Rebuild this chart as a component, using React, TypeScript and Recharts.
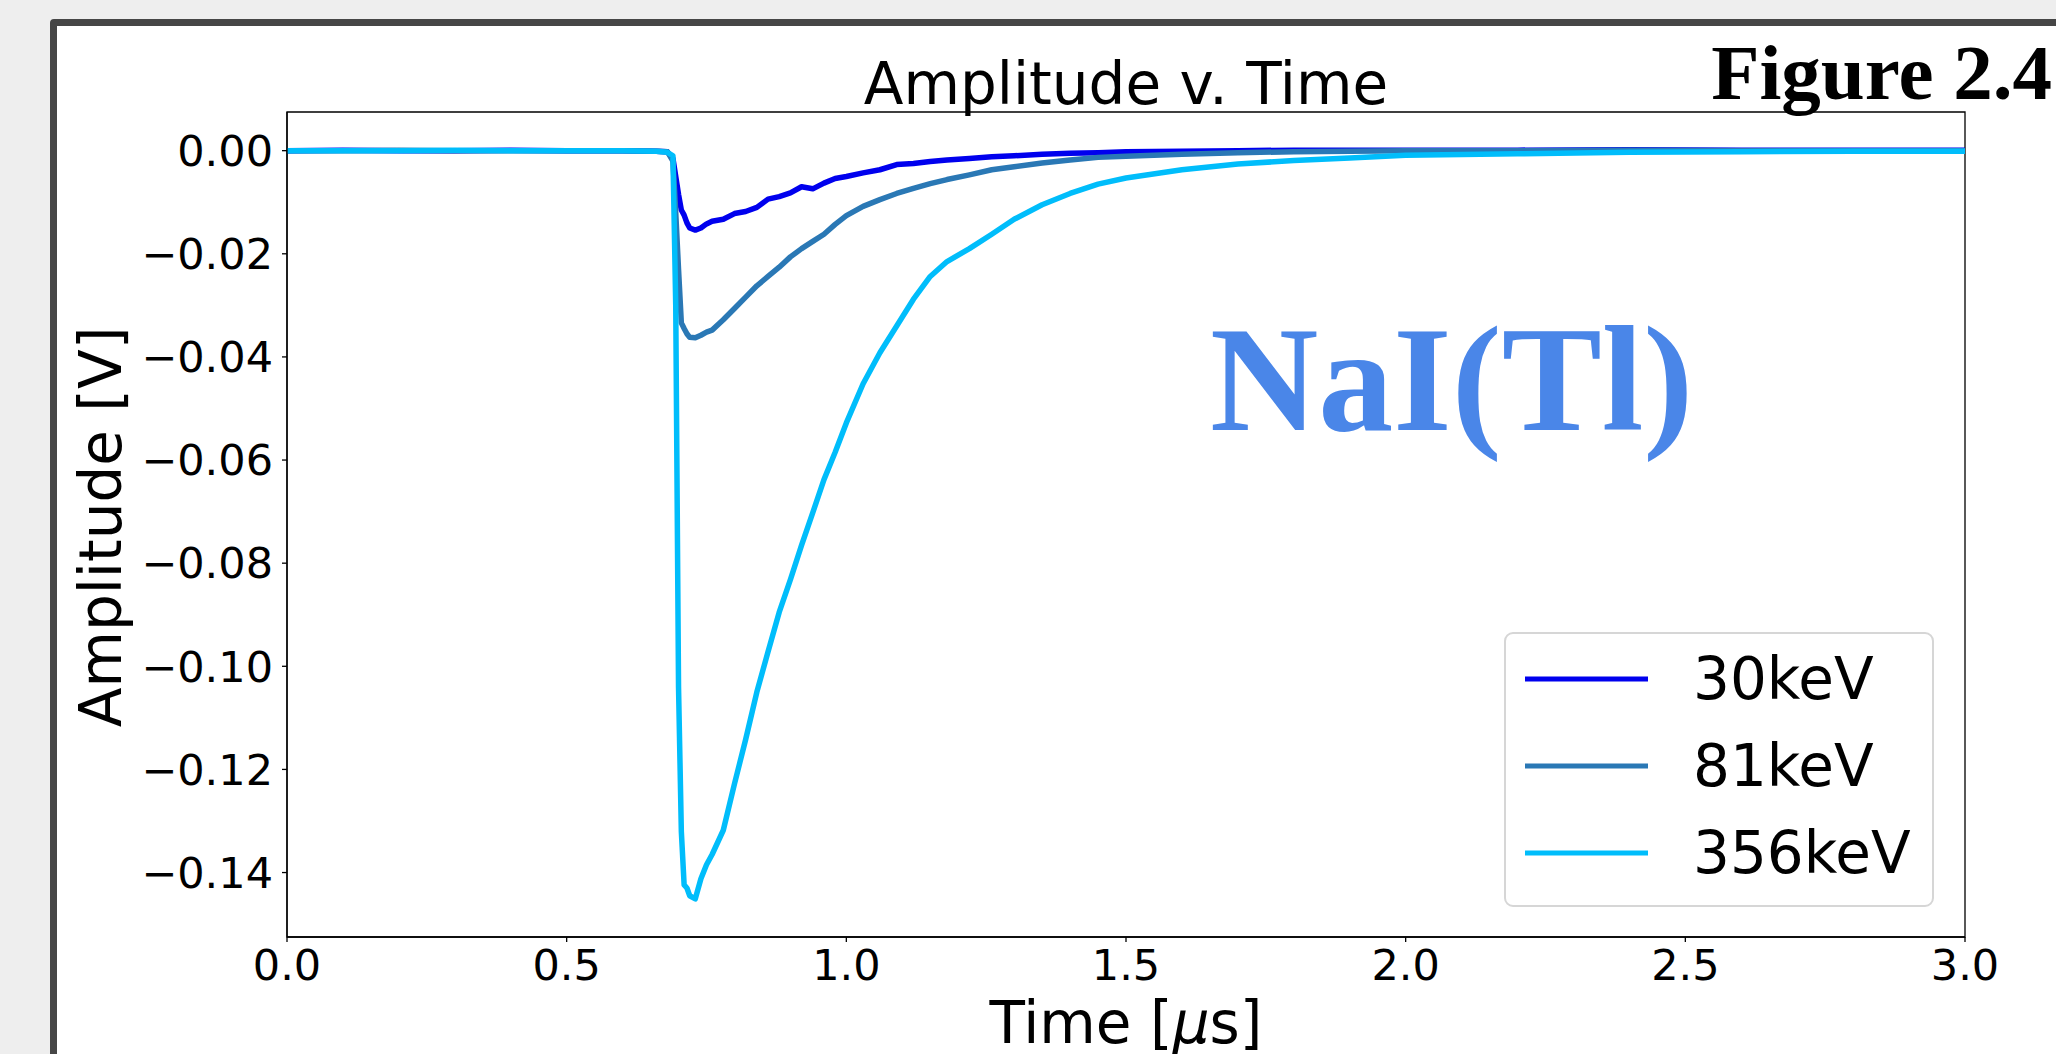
import React from 'react';
import {
  LineChart,
  Line,
  XAxis,
  YAxis,
  Legend,
  ReferenceArea,
} from 'recharts';

// time in microseconds
const times = [
  0, 0.1, 0.2, 0.3, 0.4, 0.5, 0.6, 0.66, 0.68, 0.69, 0.695, 0.7, 0.705, 0.71, 0.715,
  0.72, 0.73, 0.74, 0.75, 0.76, 0.78, 0.8, 0.82, 0.84, 0.86, 0.88, 0.9, 0.92, 0.94,
  0.96, 0.98, 1.0, 1.03, 1.06, 1.09, 1.12, 1.15, 1.18, 1.22, 1.26, 1.3, 1.35, 1.4,
  1.45, 1.5, 1.6, 1.7, 1.8, 1.9, 2.0, 2.2, 2.4, 2.6, 2.8, 3.0,
];

const amp30 = [
  0, 0.0001, 0, 0, 0.0001, 0, 0, -0.0001, -0.0002, -0.0015, -0.005, -0.0085, -0.0115,
  -0.0125, -0.014, -0.015, -0.0154, -0.015, -0.0142, -0.0137, -0.0133, -0.0122, -0.0118,
  -0.011, -0.0094, -0.0089, -0.0082, -0.007, -0.0074, -0.0063, -0.0054, -0.005, -0.0043,
  -0.0037, -0.0027, -0.0025, -0.0021, -0.0018, -0.0015, -0.0012, -0.001, -0.0007,
  -0.0005, -0.0004, -0.0002, -0.0001, 0, 0.0001, 0.0001, 0.0001, 0.0001, 0.0002, 0.0001,
  0.0001, 0.0001,
];

const amp81 = [
  0, 0, 0.0001, 0, 0, 0, 0, -0.0001, -0.0002, -0.002, -0.012, -0.023, -0.0334, -0.0345,
  -0.0355, -0.0362, -0.0363, -0.0358, -0.0352, -0.0348, -0.0328, -0.0306, -0.0284,
  -0.0262, -0.0244, -0.0226, -0.0206, -0.019, -0.0176, -0.0162, -0.0143, -0.0126,
  -0.0108, -0.0095, -0.0083, -0.0073, -0.0064, -0.0056, -0.0047, -0.0037, -0.0031,
  -0.0024, -0.0018, -0.0013, -0.0011, -0.0007, -0.0004, -0.0002, -0.0001, 0, 0, 0.0001,
  0, 0, 0,
];

const amp356 = [
  0, 0, 0, 0.0001, 0, 0, 0, -0.0001, -0.0003, -0.001, -0.03, -0.104, -0.132, -0.1424,
  -0.143, -0.1445, -0.1451, -0.1412, -0.1385, -0.1365, -0.1318, -0.1228, -0.1142, -0.105,
  -0.0972, -0.0895, -0.0832, -0.0765, -0.0702, -0.0638, -0.0585, -0.0528, -0.0452,
  -0.0392, -0.034, -0.0288, -0.0244, -0.0215, -0.019, -0.0162, -0.0133, -0.0105,
  -0.0083, -0.0065, -0.0053, -0.0037, -0.0026, -0.0019, -0.0014, -0.0009, -0.0006,
  -0.0003, -0.0002, -0.0001, -0.0001,
];

const seriesNames = ['30keV', '81keV', '356keV'];
const seriesColors = ['#0000ee', '#2a78b5', '#00bdfb'];

const xTicks = [0, 0.5, 1.0, 1.5, 2.0, 2.5, 3.0];
const yTicks = [0, -0.02, -0.04, -0.06, -0.08, -0.1, -0.12, -0.14];
const yDomain: [number, number] = [-0.1525, 0.0075];

const data = times.map((t, i) => ({
  t,
  a: amp30[i],
  b: amp81[i],
  c: amp356[i],
}));

const tickFont = { fontFamily: 'DejaVu Sans', fontSize: 43, fill: '#000' };

const fmtY = (v: number) => (v < 0 ? '\u2212' + Math.abs(v).toFixed(2) : v.toFixed(2));

// legend drawn in series order, like matplotlib does
const LegendBox = () => (
  <div
    style={{
      width: 430,
      height: 275,
      boxSizing: 'border-box',
      border: '2px solid #d6d6d6',
      borderRadius: 9,
      background: 'rgba(255,255,255,0.85)',
      position: 'relative',
    }}
  >
    {seriesNames.map((name, i) => (
      <div
        key={name}
        style={{ position: 'absolute', left: 0, top: 45 + i * 87 - 30, height: 60, width: 430 }}
      >
        <svg width={130} height={60} style={{ position: 'absolute', left: 17, top: 0 }}>
          <line x1={2} x2={125} y1={30} y2={30} stroke={seriesColors[i]} strokeWidth={5} />
        </svg>
        <span
          style={{
            position: 'absolute',
            left: 187,
            top: 0,
            lineHeight: '60px',
            fontFamily: 'DejaVu Sans',
            fontSize: 58,
            color: '#000',
            whiteSpace: 'nowrap',
          }}
        >
          {name}
        </span>
      </div>
    ))}
  </div>
);

export default function App() {
  return (
    <div
      style={{
        position: 'absolute',
        left: 0,
        top: 0,
        width: 2056,
        height: 1054,
        overflow: 'hidden',
        background: '#eeeeee',
      }}
    >
      <div
        style={{
          position: 'absolute',
          left: 50,
          top: 19,
          width: 2100,
          height: 1100,
          border: '7px solid #464646',
          borderRadius: 4,
          background: '#ffffff',
        }}
      />
      <div style={{ position: 'absolute', left: 0, top: 0 }}>
        <LineChart
          width={2056}
          height={1054}
          data={data}
          margin={{ top: 112, right: 91, left: 187, bottom: 57 }}
        >
          <XAxis
            dataKey="t"
            type="number"
            domain={[0, 3]}
            ticks={xTicks}
            tickFormatter={(v: number) => v.toFixed(1)}
            height={60}
            tick={tickFont}
            tickSize={5}
            tickMargin={7}
            stroke="#000"
            strokeWidth={1.3}
            allowDataOverflow
          />
          <YAxis
            type="number"
            domain={yDomain}
            ticks={yTicks}
            tickFormatter={fmtY}
            width={100}
            tick={tickFont}
            tickSize={5}
            tickMargin={9}
            stroke="#000"
            strokeWidth={1.3}
            allowDataOverflow
          />
          <ReferenceArea
            x1={0}
            x2={3}
            y1={yDomain[0]}
            y2={yDomain[1]}
            fill="none"
            stroke="#000"
            strokeWidth={1.3}
          />
          <Line
            dataKey="a"
            name={seriesNames[0]}
            stroke={seriesColors[0]}
            strokeWidth={5.5}
            dot={false}
            strokeLinejoin="round"
            isAnimationActive={false}
          />
          <Line
            dataKey="b"
            name={seriesNames[1]}
            stroke={seriesColors[1]}
            strokeWidth={5.5}
            dot={false}
            strokeLinejoin="round"
            isAnimationActive={false}
          />
          <Line
            dataKey="c"
            name={seriesNames[2]}
            stroke={seriesColors[2]}
            strokeWidth={5.5}
            dot={false}
            strokeLinejoin="round"
            isAnimationActive={false}
          />
          <Legend
            layout="vertical"
            align="center"
            verticalAlign="middle"
            content={LegendBox}
            wrapperStyle={{ position: 'absolute', left: 1504, top: 632, width: 430, height: 275 }}
          />
        </LineChart>
      </div>
      <svg
        width={2056}
        height={1054}
        style={{ position: 'absolute', left: 0, top: 0, pointerEvents: 'none' }}
      >
        <text x={1126} y={104} textAnchor="middle" fontFamily="DejaVu Sans" fontSize={58} fill="#000">
          Amplitude v. Time
        </text>
        <text
          x={121}
          y={527}
          transform="rotate(-90 121 527)"
          textAnchor="middle"
          fontFamily="DejaVu Sans"
          fontSize={58}
          fill="#000"
        >
          Amplitude [V]
        </text>
        <text x={1126} y={1043} textAnchor="middle" fontFamily="DejaVu Sans" fontSize={58} fill="#000">
          Time [<tspan fontStyle="italic">{'\u03bc'}</tspan>s]
        </text>
        <text
          x={2052}
          y={99}
          textAnchor="end"
          fontFamily="Liberation Serif"
          fontWeight="bold"
          fontSize={79}
          fill="#000"
        >
          Figure 2.4
        </text>
        <text
          x={1210}
          y={430}
          fontFamily="Liberation Serif"
          fontWeight="bold"
          fontSize={150}
          fill="#4a86e8"
        >
          NaI(Tl)
        </text>
      </svg>
    </div>
  );
}
